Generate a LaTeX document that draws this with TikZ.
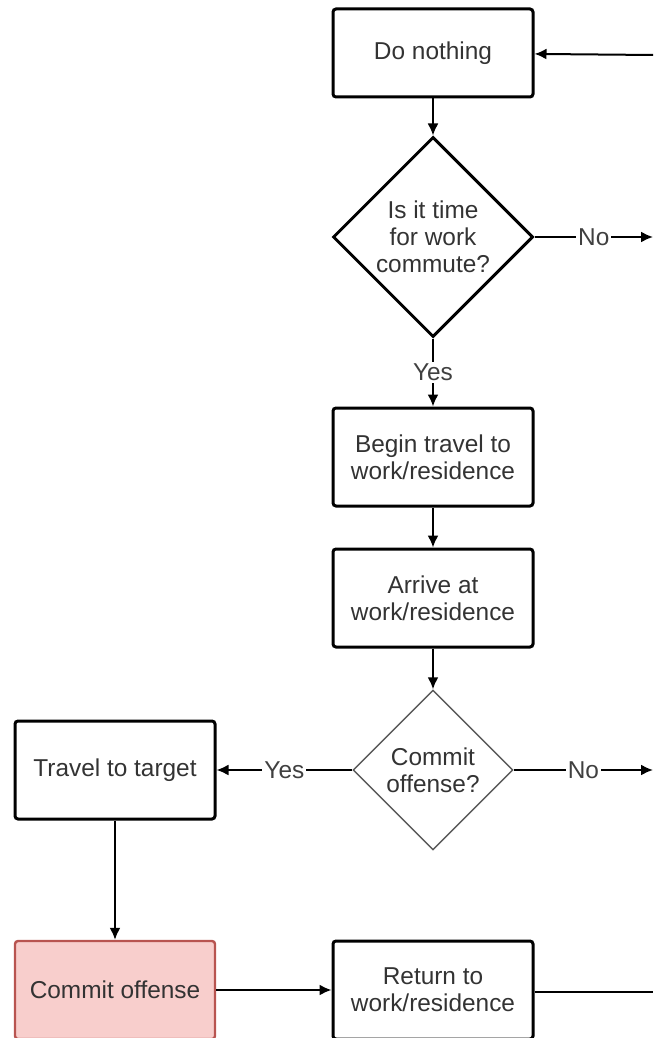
\documentclass[tikz,border=0pt]{standalone}
\usepackage{fontspec}
\setmainfont{Liberation Sans}
\usepackage{xcolor}
\usepackage{tikz}
\usetikzlibrary{shapes.geometric,arrows.meta}

\definecolor{offfill}{HTML}{F8CECC}
\definecolor{offline}{HTML}{B85450}

\begin{document}
\begin{tikzpicture}[x=0.5pt,y=-0.5pt,line width=1pt,
        every node/.append style={font=\fontsize{12.2}{13.5}\selectfont},
        box/.style={draw,rectangle,rounded corners=1.5pt,line width=1.5pt,minimum width=100pt,minimum height=49pt,align=center,text=black!80},
        dec/.style={draw,diamond,aspect=1,inner sep=0pt,align=center,text=black!80},
        lab/.style={fill=white,inner sep=1pt,text=black!75}]
        \useasboundingbox (0,0) rectangle (653,1038);

        % main column
        \node[box,minimum height=44pt] (n1) at (433,53) {Do nothing};
        \node[dec,line width=1.5pt,minimum width=100pt,minimum height=100pt] (d1) at (433,237) {Is it time\\for work\\commute?};
        \node[box] (n2) at (433,457) {Begin travel to\\work/residence};
        \node[box] (n3) at (433,598) {Arrive at\\work/residence};
        \node[dec,draw=black!65,line width=0.7pt,minimum width=80pt,minimum height=80pt] (d2) at (433,770) {Commit\\offense?};
        \node[box] (t1) at (115,770) {Travel to target};
        \node[box,fill=offfill,draw=offline,line width=1.2pt] (t2) at (115,990) {Commit offense};
        \node[box] (n4) at (433,990) {Return to\\work/residence};

        % loose ends at the right edge
        \foreach \y[count=\yi] in {55,237,770,992}
            \coordinate (r\yi) at (653,\y);

        \begin{scope}[-{Latex[length=6pt,width=5.5pt]}]
        \draw (r1) -- (n1);
        \draw (n1) -- (d1);
        \draw (d1) -- node[lab] {No} (r2);
        \draw (d1) -- node[lab] {Yes} (n2);
        \draw (n2) -- (n3);
        \draw (n3) -- (d2);
        \draw (d2) -- node[lab] {Yes} (t1);
        \draw (d2) -- node[lab] {No} (r3);
        \draw (t1) -- (t2);
        \draw (t2) -- (n4);
        \end{scope}
        \draw (n4.east |- r4) -- (r4);
    \end{tikzpicture}
\end{document}
